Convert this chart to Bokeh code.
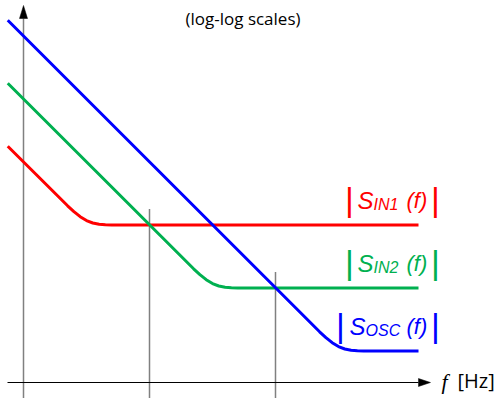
from bokeh.plotting import figure
from bokeh.models import Range1d, Label
from bokeh.core.properties import value
from bokeh.embed import file_html
from bokeh.resources import INLINE

# ---- data (log10 units: decades) ----
in1_log_f = [-0.25, 0.7, 0.8, 0.9, 1.0, 1.1, 1.2, 1.3, 1.4, 6.27]
in1_log_S = [3.75, 2.805, 2.713, 2.632, 2.57, 2.532, 2.513, 2.505, 2.5, 2.5]
in2_log_f = [-0.25, 2.7, 2.8, 2.9, 3.0, 3.1, 3.2, 3.3, 3.4, 6.27]
in2_log_S = [4.75, 1.805, 1.713, 1.632, 1.57, 1.532, 1.513, 1.505, 1.5, 1.5]
osc_log_f = [-0.25, 4.7, 4.8, 4.9, 5.0, 5.1, 5.2, 5.3, 5.4, 6.27]
osc_log_S = [5.75, 0.805, 0.713, 0.632, 0.57, 0.532, 0.513, 0.505, 0.5, 0.5]

series_subs = ["IN1", "IN2", "OSC"]
series_colors = ["#FF0000", "#00B050", "#0000FF"]

# crossing frequencies (log10 f) and their levels
cross_log_f = [2.0, 4.0]
cross_log_S = [2.5, 1.5]

title_text = "(log-log scales)"
xlabel_var = "f"
xlabel_unit = "[Hz]"

# ---- layout ----
PX = 63.0  # pixels per decade
W, H = 498, 398
x0 = -23 / PX
y0 = -16 / PX

p = figure(width=W, height=H, output_backend="svg", toolbar_location=None,
           x_axis_location=None, y_axis_location=None, min_border=0,
           x_range=Range1d(x0, x0 + W / PX), y_range=Range1d(y0, y0 + H / PX),
           outline_line_color=None, background_fill_color="white")
p.grid.visible = False

AX_GRAY = "#808080"
yr0 = p.y_range.start

# vertical marker lines at crossings
for cf, cs in zip(cross_log_f, cross_log_S):
    p.segment(x0=[cf], y0=[yr0], x1=[cf], y1=[cs + 16 / PX],
              line_color=AX_GRAY, line_width=1.5)

# y axis (gray line + black head)
y_tip = 377 / PX
p.segment(x0=[0], y0=[yr0], x1=[0], y1=[y_tip - 13 / PX], line_color=AX_GRAY, line_width=1.5)
p.patch(x=[0, -4 / PX, 4 / PX], y=[y_tip, y_tip - 13 / PX, y_tip - 13 / PX],
        fill_color="black", line_color="black", line_width=0.5)

# x axis (black line + head)
x_tip = 6.46
x_start = -16 / PX
p.segment(x0=[x_start], y0=[0], x1=[x_tip - 12 / PX], y1=[0], line_color="black", line_width=1)
p.patch(x=[x_tip, x_tip - 12 / PX, x_tip - 12 / PX], y=[0, 4 / PX, -4 / PX],
        fill_color="black", line_color="black", line_width=0.5)

# curves
curves = [(in1_log_f, in1_log_S), (in2_log_f, in2_log_S), (osc_log_f, osc_log_S)]
for (lf, ls), col in zip(curves, series_colors):
    p.line(lf, ls, line_color=col, line_width=3)

# curve labels  | S_sub (f) |
bar1_dx = [-69, -69, -78]
s_dx = [-61, -61, -69]
sub_dx = [-45, -45, -53]
LBL_FONT = value("Liberation Sans")
for (lf, ls), col, sub, b1, sdx, subdx in zip(curves, series_colors, series_subs,
                                               bar1_dx, s_dx, sub_dx):
    ex, ey = lf[-1], ls[-1]
    common = dict(text_color=col, text_font=LBL_FONT, text_baseline="alphabetic")
    p.text(x=[ex], y=[ey], text=["|"], x_offset=b1, y_offset=-26,
           text_font_size="34px", text_align="center", **common)
    p.text(x=[ex], y=[ey], text=["|"], x_offset=17, y_offset=-26,
           text_font_size="34px", text_align="center", **common)
    p.text(x=[ex], y=[ey], text=["S"], x_offset=sdx, y_offset=-25,
           text_font_size="24px", text_font_style="italic", text_align="left", **common)
    p.text(x=[ex], y=[ey], text=[sub], x_offset=subdx, y_offset=-21,
           text_font_size="16px", text_font_style="italic", text_align="left", **common)
    p.text(x=[ex], y=[ey], text=["(f)"], x_offset=-12, y_offset=-25,
           text_font_size="22px", text_font_style="italic", text_align="left", **common)

# title
p.add_layout(Label(x=242.5, y=H - 17.5, x_units="screen", y_units="screen",
                   text=title_text, text_font="Open Sans", text_font_size="17px",
                   text_color="black", text_align="center", text_baseline="alphabetic"))

# x label
p.text(x=[x_tip], y=[0], text=[xlabel_var], x_offset=11, y_offset=-1,
       text_font=value("Liberation Serif"), text_font_style="italic",
       text_font_size="22px", text_color="black", text_align="left",
       text_baseline="alphabetic")
p.text(x=[x_tip], y=[0], text=[xlabel_unit], x_offset=27, y_offset=-2,
       text_font=value("Open Sans"), text_font_size="20px", text_color="black",
       text_align="left", text_baseline="alphabetic")

open("out.html", "w").write(file_html(p, INLINE))
